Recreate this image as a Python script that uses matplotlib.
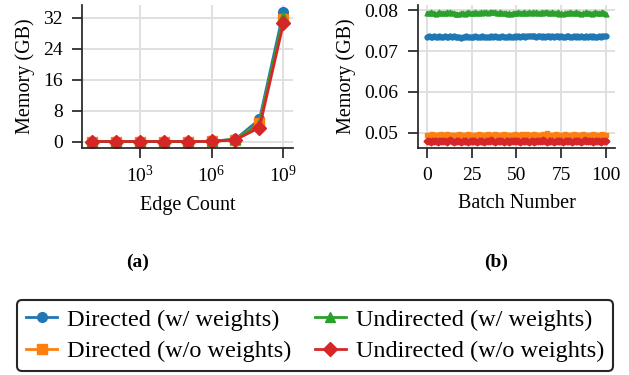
"""Memory usage: scaling with edge count and per-batch memory."""

import matplotlib

matplotlib.use("Agg")
import matplotlib.pyplot as plt
import numpy as np

plt.rcParams["font.family"] = ["Liberation Serif", "DejaVu Serif"]
plt.rcParams["mathtext.fontset"] = "custom"
plt.rcParams["mathtext.rm"] = "Liberation Serif"
plt.rcParams["mathtext.it"] = "Liberation Serif:italic"
plt.rcParams["mathtext.bf"] = "Liberation Serif:bold"

SERIES = (
    "Directed (w/ weights)",
    "Directed (w/o weights)",
    "Undirected (w/ weights)",
    "Undirected (w/o weights)",
)
COLORS = ("#1f77b4", "#ff7f0e", "#2ca02c", "#d62728")
MARKERS = ("o", "s", "^", "D")

# (a) memory vs edge count
edge_counts = [1e1, 1e2, 1e3, 1e4, 1e5, 1e6, 1e7, 1e8, 1e9]
mem_dir_w = [0.0, 0.0, 0.0, 0.0, 0.0, 0.05, 0.6, 5.7, 33.6]
mem_dir_nw = [0.0, 0.0, 0.0, 0.0, 0.0, 0.04, 0.5, 4.8, 31.6]
mem_undir_w = [0.0, 0.0, 0.0, 0.0, 0.0, 0.05, 0.55, 4.6, 32.3]
mem_undir_nw = [0.0, 0.0, 0.0, 0.0, 0.0, 0.04, 0.45, 3.6, 30.6]

# (b) memory per batch, in MB (1e-3 GB)
batch_dir_w = [
    73.5, 73.6, 73.4, 73.5, 73.7, 73.5, 73.4, 73.6, 73.5, 73.5,
    73.7, 73.4, 73.5, 73.6, 73.5, 73.8, 73.5, 73.4, 73.5, 73.3,
    73.4, 73.5, 73.6, 73.4, 73.5, 73.5, 73.4, 73.6, 73.5, 73.4,
    73.5, 73.6, 73.5, 73.5, 73.4, 73.5, 73.7, 73.5, 73.6, 73.5,
    73.4, 73.5, 73.6, 73.5, 73.5, 73.4, 73.6, 73.5, 73.5, 73.7,
    73.5, 73.6, 73.5, 73.6, 73.7, 73.5, 73.6, 73.7, 73.6, 73.8,
    73.6, 73.5, 73.6, 73.7, 73.5, 73.6, 73.5, 73.8, 73.6, 73.5,
    73.6, 73.5, 73.7, 73.6, 73.5, 73.6, 73.4, 73.5, 73.6, 73.7,
    73.5, 73.4, 73.6, 73.5, 73.7, 73.5, 73.6, 73.5, 73.4, 73.6,
    73.5, 73.7, 73.5, 73.6, 73.5, 73.5, 73.6, 73.5, 73.7, 73.6, 73.6,
]
batch_dir_nw = [
    49.5, 49.4, 49.5, 49.6, 49.5, 49.4, 49.5, 49.5, 49.6, 49.4,
    49.5, 49.6, 49.5, 49.4, 49.5, 49.5, 49.4, 49.5, 49.6, 49.5,
    49.4, 49.5, 49.5, 49.6, 49.5, 49.4, 49.5, 49.5, 49.4, 49.6,
    49.5, 49.5, 49.4, 49.5, 49.6, 49.5, 49.5, 49.4, 49.7, 49.5,
    49.5, 49.4, 49.5, 49.6, 49.5, 49.5, 49.4, 49.5, 49.5, 49.6,
    49.5, 49.4, 49.5, 49.6, 49.5, 49.5, 49.6, 49.5, 49.4, 49.5,
    49.6, 49.5, 49.5, 49.4, 49.5, 49.6, 49.5, 49.8, 49.5, 49.4,
    49.5, 49.5, 49.6, 49.5, 49.4, 49.5, 49.5, 49.6, 49.5, 49.5,
    49.4, 49.5, 49.6, 49.5, 49.5, 49.4, 49.5, 49.6, 49.5, 49.5,
    49.4, 49.5, 49.5, 49.6, 49.5, 49.4, 49.5, 49.5, 49.6, 49.5, 49.5,
]
batch_undir_w = [
    79.4, 79.3, 79.5, 79.3, 79.4, 79.2, 79.4, 79.5, 79.3, 79.4,
    79.3, 79.5, 79.4, 79.6, 79.3, 79.4, 79.2, 79.1, 79.1, 79.3,
    79.4, 79.2, 79.3, 79.5, 79.4, 79.3, 79.4, 79.5, 79.3, 79.4,
    79.5, 79.4, 79.6, 79.5, 79.4, 79.6, 79.5, 79.7, 79.5, 79.4,
    79.3, 79.5, 79.4, 79.3, 79.4, 79.2, 79.3, 79.1, 79.3, 79.4,
    79.4, 79.5, 79.3, 79.4, 79.6, 79.4, 79.3, 79.5, 79.4, 79.6,
    79.4, 79.5, 79.3, 79.4, 79.6, 79.4, 79.5, 79.7, 79.4, 79.3,
    79.5, 79.4, 79.3, 79.5, 79.2, 79.3, 79.1, 79.4, 79.3, 79.4,
    79.5, 79.3, 79.4, 79.6, 79.3, 79.4, 79.2, 79.3, 79.4, 79.5,
    79.3, 79.4, 79.2, 79.3, 79.5, 79.4, 79.3, 79.4, 79.7, 79.3, 79.1,
]
batch_undir_nw = [
    47.9, 48.0, 47.8, 47.9, 48.0, 47.9, 47.8, 48.0, 47.9, 47.9,
    48.0, 47.8, 47.9, 48.1, 47.9, 47.8, 47.9, 48.0, 47.9, 47.8,
    47.9, 48.0, 47.9, 47.8, 48.0, 47.9, 47.9, 48.0, 47.8, 47.9,
    48.0, 47.9, 47.8, 47.9, 48.0, 47.9, 48.1, 47.9, 47.8, 47.9,
    48.0, 47.9, 47.9, 47.8, 48.0, 47.9, 47.8, 47.9, 48.0, 47.9,
    47.9, 48.0, 47.8, 47.9, 48.0, 47.9, 47.9, 47.8, 48.0, 47.9,
    47.8, 47.9, 48.0, 47.9, 47.9, 48.1, 47.9, 47.8, 47.9, 48.0,
    47.9, 47.8, 47.9, 48.0, 47.9, 47.9, 47.8, 48.0, 47.9, 47.9,
    48.0, 47.8, 47.9, 47.9, 48.0, 47.9, 47.8, 47.9, 48.1, 47.9,
    47.9, 48.0, 47.9, 47.8, 47.9, 48.0, 47.9, 47.8, 47.9, 48.0, 47.9,
]
batch_numbers = list(range(len(batch_dir_w)))


def _style(ax):
    for side in ("top", "right"):
        ax.spines[side].set_visible(False)
    for side in ("left", "bottom"):
        ax.spines[side].set_linewidth(1.25)
        ax.spines[side].set_color("#262626")
    ax.tick_params(labelsize=14, length=7, width=1.25, color="#262626", pad=5)
    ax.tick_params(axis="y", pad=7)
    ax.tick_params(which="minor", length=0)
    ax.grid(True, color="#e0e0e0", linewidth=1.4)
    ax.set_axisbelow(True)


fig = plt.figure(figsize=(6.29, 3.75), dpi=100)
ax_a = fig.add_axes([0.1304, 0.6053, 0.3355, 0.3813])
ax_b = fig.add_axes([0.6645, 0.6053, 0.3132, 0.3813])

series_a = (mem_dir_w, mem_dir_nw, mem_undir_w, mem_undir_nw)
for label, values, color, marker in zip(SERIES, series_a, COLORS, MARKERS):
    ax_a.plot(edge_counts, values, color=color, marker=marker, markersize=7,
              linewidth=2, label=label)
ax_a.set_xscale("log")
ax_a.xaxis.set_major_locator(matplotlib.ticker.LogLocator(base=1000, numticks=10))
ax_a.xaxis.set_minor_locator(matplotlib.ticker.NullLocator())
ax_a.set_yticks([0, 8, 16, 24, 32])
_style(ax_a)
ax_a.set_xlabel("Edge Count", fontsize=14.5, labelpad=7)
ax_a.set_ylabel("Memory (GB)", fontsize=14.5, labelpad=6)

series_b = (batch_dir_w, batch_dir_nw, batch_undir_w, batch_undir_nw)
for label, values, color, marker in zip(SERIES, series_b, COLORS, MARKERS):
    ax_b.plot(batch_numbers, np.array(values) / 1000.0, color=color,
              marker=marker, markersize=3.5, linewidth=1.6, label=label)
ax_b.set_xticks([0, 25, 50, 75, 100])
ax_b.set_yticks([0.05, 0.06, 0.07, 0.08])
_style(ax_b)
ax_b.tick_params(axis="x", pad=7)
ax_b.set_xlabel("Batch Number", fontsize=14.5, labelpad=7)
ax_b.set_ylabel("Memory (GB)", fontsize=14.5, labelpad=6)

fig.text(0.218, 0.30, "(a)", fontsize=14, fontweight="bold", ha="center", va="center")
fig.text(0.789, 0.30, "(b)", fontsize=14, fontweight="bold", ha="center", va="center")

handles, labels = ax_a.get_legend_handles_labels()
leg = fig.legend(handles, labels, loc="center", bbox_to_anchor=(0.501, 0.105),
                 ncol=2, fontsize=17.5, handlelength=1.3, handletextpad=0.4,
                 columnspacing=0.95, labelspacing=0.4, borderpad=0.35,
                 fancybox=True, framealpha=1)
leg.get_frame().set_edgecolor("#262626")
leg.get_frame().set_linewidth(1.5)

fig.savefig("out.png", dpi=100)
plt.close(fig)
